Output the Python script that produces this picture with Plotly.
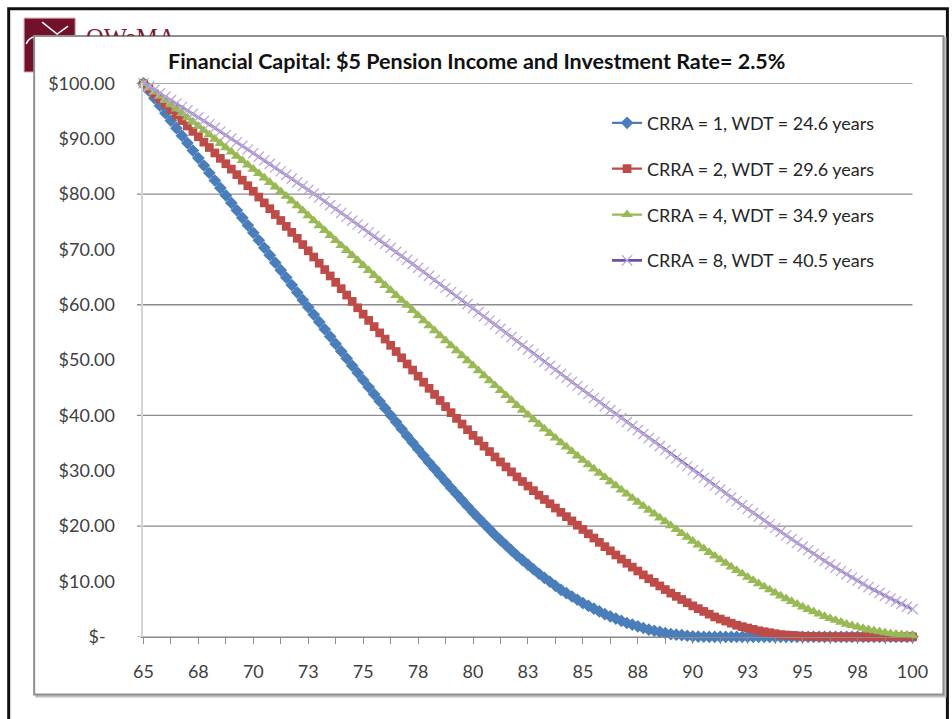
import plotly.graph_objects as go

# ---------------- data (quarterly ages 65 .. 100) ----------------
ages = [65 + q / 4 for q in range(141)]

crra1 = [
    100.0, 98.65, 97.3, 95.95,   # 65
    94.6, 93.25, 91.9, 90.55,    # 66
    89.2, 87.85, 86.5, 85.15,    # 67
    83.8, 82.45, 81.1, 79.75,    # 68
    78.4, 77.05, 75.7, 74.35,    # 69
    73.0, 71.65, 70.3, 68.95,    # 70
    67.6, 66.25, 64.9, 63.55,    # 71
    62.2, 60.87, 59.55, 58.22,   # 72
    56.9, 55.57, 54.25, 52.92,   # 73
    51.6, 50.3, 49.0, 47.7,      # 74
    46.4, 45.12, 43.85, 42.57,   # 75
    41.3, 40.04, 38.8, 37.55,    # 76
    36.3, 35.1, 33.9, 32.7,      # 77
    31.5, 30.35, 29.2, 28.05,    # 78
    26.9, 25.8, 24.7, 23.6,      # 79
    22.5, 21.47, 20.45, 19.42,   # 80
    18.4, 17.47, 16.55, 15.62,   # 81
    14.7, 13.87, 13.05, 12.22,   # 82
    11.4, 10.67, 9.95, 9.22,     # 83
    8.5, 7.9, 7.3, 6.7,          # 84
    6.1, 5.6, 5.1, 4.6,          # 85
    4.1, 3.7, 3.3, 2.9,          # 86
    2.5, 2.2, 1.9, 1.6,          # 87
    1.3, 1.1, 0.9, 0.7,          # 88
    0.5, 0.4, 0.3, 0.2,          # 89
    0.1, 0.05, 0.02, 0.01,       # 90
    0, 0, 0, 0,                  # 91
    0, 0, 0, 0,                  # 92
    0, 0, 0, 0,                  # 93
    0, 0, 0, 0,                  # 94
    0, 0, 0, 0,                  # 95
    0, 0, 0, 0,                  # 96
    0, 0, 0, 0,                  # 97
    0, 0, 0, 0,                  # 98
    0, 0, 0, 0,                  # 99
    0,                           # 100
]

crra2 = [
    100.0, 99.05, 98.1, 97.15,   # 65
    96.2, 95.22, 94.25, 93.27,   # 66
    92.3, 91.32, 90.35, 89.37,   # 67
    88.4, 87.42, 86.45, 85.47,   # 68
    84.5, 83.5, 82.5, 81.5,      # 69
    80.5, 79.45, 78.4, 77.35,    # 70
    76.3, 75.22, 74.15, 73.07,   # 71
    72.0, 70.87, 69.75, 68.62,   # 72
    67.5, 66.35, 65.2, 64.05,    # 73
    62.9, 61.75, 60.6, 59.45,    # 74
    58.3, 57.17, 56.05, 54.92,   # 75
    53.8, 52.67, 51.55, 50.42,   # 76
    49.3, 48.2, 47.1, 46.0,      # 77
    44.9, 43.8, 42.7, 41.6,      # 78
    40.5, 39.47, 38.45, 37.42,   # 79
    36.4, 35.42, 34.45, 33.47,   # 80
    32.5, 31.6, 30.7, 29.8,      # 81
    28.9, 28.07, 27.25, 26.42,   # 82
    25.6, 24.82, 24.05, 23.27,   # 83
    22.5, 21.72, 20.95, 20.17,   # 84
    19.4, 18.62, 17.85, 17.07,   # 85
    16.3, 15.55, 14.8, 14.05,    # 86
    13.3, 12.6, 11.9, 11.2,      # 87
    10.5, 9.85, 9.2, 8.55,       # 88
    7.9, 7.32, 6.75, 6.17,       # 89
    5.6, 5.1, 4.6, 4.1,          # 90
    3.6, 3.22, 2.85, 2.47,       # 91
    2.1, 1.85, 1.6, 1.35,        # 92
    1.1, 0.92, 0.75, 0.57,       # 93
    0.4, 0.32, 0.25, 0.17,       # 94
    0.1, 0.07, 0.04, 0.02,       # 95
    0, 0, 0, 0,                  # 96
    0, 0, 0, 0,                  # 97
    0, 0, 0, 0,                  # 98
    0, 0, 0, 0,                  # 99
    0,                           # 100
]

crra4 = [
    100.0, 99.22, 98.45, 97.67,  # 65
    96.9, 96.12, 95.35, 94.57,   # 66
    93.8, 93.02, 92.25, 91.47,   # 67
    90.7, 89.92, 89.15, 88.37,   # 68
    87.6, 86.82, 86.05, 85.27,   # 69
    84.5, 83.7, 82.9, 82.1,      # 70
    81.3, 80.45, 79.6, 78.75,    # 71
    77.9, 77.0, 76.1, 75.2,      # 72
    74.3, 73.4, 72.5, 71.6,      # 73
    70.7, 69.8, 68.9, 68.0,      # 74
    67.1, 66.2, 65.3, 64.4,      # 75
    63.5, 62.6, 61.7, 60.8,      # 76
    59.9, 58.97, 58.05, 57.12,   # 77
    56.2, 55.3, 54.4, 53.5,      # 78
    52.6, 51.7, 50.8, 49.9,      # 79
    49.0, 48.1, 47.2, 46.3,      # 80
    45.4, 44.5, 43.6, 42.7,      # 81
    41.8, 40.95, 40.1, 39.25,    # 82
    38.4, 37.57, 36.75, 35.92,   # 83
    35.1, 34.3, 33.5, 32.7,      # 84
    31.9, 31.12, 30.35, 29.57,   # 85
    28.8, 28.05, 27.3, 26.55,    # 86
    25.8, 25.07, 24.35, 23.62,   # 87
    22.9, 22.2, 21.5, 20.8,      # 88
    20.1, 19.4, 18.7, 18.0,      # 89
    17.3, 16.62, 15.95, 15.27,   # 90
    14.6, 13.95, 13.3, 12.65,    # 91
    12.0, 11.4, 10.8, 10.2,      # 92
    9.6, 9.05, 8.5, 7.95,        # 93
    7.4, 6.9, 6.4, 5.9,          # 94
    5.4, 4.97, 4.55, 4.12,       # 95
    3.7, 3.35, 3.0, 2.65,        # 96
    2.3, 2.05, 1.8, 1.55,        # 97
    1.3, 1.12, 0.95, 0.77,       # 98
    0.6, 0.5, 0.4, 0.3,          # 99
    0.2,                         # 100
]

crra8 = [
    100.0, 99.4, 98.8, 98.2,     # 65
    97.6, 96.97, 96.35, 95.72,   # 66
    95.1, 94.47, 93.85, 93.22,   # 67
    92.6, 91.95, 91.3, 90.65,    # 68
    90.0, 89.35, 88.7, 88.05,    # 69
    87.4, 86.75, 86.1, 85.45,    # 70
    84.8, 84.12, 83.45, 82.77,   # 71
    82.1, 81.42, 80.75, 80.07,   # 72
    79.4, 78.7, 78.0, 77.3,      # 73
    76.6, 75.9, 75.2, 74.5,      # 74
    73.8, 73.1, 72.4, 71.7,      # 75
    71.0, 70.27, 69.55, 68.82,   # 76
    68.1, 67.37, 66.65, 65.92,   # 77
    65.2, 64.47, 63.75, 63.02,   # 78
    62.3, 61.57, 60.85, 60.12,   # 79
    59.4, 58.65, 57.9, 57.15,    # 80
    56.4, 55.65, 54.9, 54.15,    # 81
    53.4, 52.65, 51.9, 51.15,    # 82
    50.4, 49.67, 48.95, 48.22,   # 83
    47.5, 46.77, 46.05, 45.32,   # 84
    44.6, 43.87, 43.15, 42.42,   # 85
    41.7, 40.97, 40.25, 39.52,   # 86
    38.8, 38.07, 37.35, 36.62,   # 87
    35.9, 35.17, 34.45, 33.72,   # 88
    33.0, 32.27, 31.55, 30.82,   # 89
    30.1, 29.4, 28.7, 28.0,      # 90
    27.3, 26.6, 25.9, 25.2,      # 91
    24.5, 23.8, 23.1, 22.4,      # 92
    21.7, 21.02, 20.35, 19.67,   # 93
    19.0, 18.32, 17.65, 16.97,   # 94
    16.3, 15.65, 15.0, 14.35,    # 95
    13.7, 13.1, 12.5, 11.9,      # 96
    11.3, 10.72, 10.15, 9.57,    # 97
    9.0, 8.47, 7.95, 7.42,       # 98
    6.9, 6.42, 5.95, 5.47,       # 99
    5.0,                         # 100
]

series_names = [
    "CRRA = 1, WDT = 24.6 years",
    "CRRA = 2, WDT = 29.6 years",
    "CRRA = 4, WDT = 34.9 years",
    "CRRA = 8, WDT = 40.5 years",
]

x_tick_vals = [65, 67.5, 70, 72.5, 75, 77.5, 80, 82.5, 85, 87.5, 90, 92.5, 95, 97.5, 100]
x_tick_text = ["65", "68", "70", "73", "75", "78", "80", "83", "85", "88", "90", "93", "95", "98", "100"]
y_tick_vals = [0, 10, 20, 30, 40, 50, 60, 70, 80, 90, 100]
y_tick_text = ["$-\u00a0\u00a0", "$10.00", "$20.00", "$30.00", "$40.00", "$50.00",
               "$60.00", "$70.00", "$80.00", "$90.00", "$100.00"]
grid_values = [0, 20, 40, 60, 80, 100]

title_text = "Financial Capital: $5 Pension Income and Investment Rate= 2.5%"
logo_text = "QWeMA"

# ---------------- figure geometry ----------------
# Screen targets (pixels in the final 952x719 picture) are converted to the
# figure's own coordinates: the page shows the figure offset by the body margin
# and slightly scaled, so compensate for both.
OFF = 8
S = 0.975
W = int(round(952 / S)) - OFF
H = int(round(719 / S)) - OFF
def fx(x):   # screen x -> figure px
    return x / S - OFF
def fy(y):
    return y / S - OFF
def px(x):   # screen x -> paper fraction
    return fx(x) / W
def py(y):   # screen y (from top) -> paper fraction
    return 1 - fy(y) / H
def fs(size):  # screen size -> figure size
    return size / S

FONT = "Lato"
LABEL = "#404040"
GRID = "#8c8c8c"

fig = go.Figure()

styles = [
    dict(color="#4A7EBB", symbol="diamond", size=9.5, lc="#4A7EBB", mlc="#4A7EBB", mlw=0, lw=2.2),
    dict(color="#BE4B48", symbol="square", size=8.5, lc="#BE4B48", mlc="#BE4B48", mlw=0, lw=2.2),
    dict(color="#98B954", symbol="triangle-up", size=10, lc="#98B954", mlc="#98B954", mlw=0, lw=2.2),
    dict(color="#BCA9DC", symbol="x-thin", size=10, lc="#6E4E9E", mlc="#BCA9DC", mlw=1.3, lw=2.6),
]
for name, ys, st in zip(series_names, [crra1, crra2, crra4, crra8], styles):
    fig.add_trace(go.Scatter(
        x=ages, y=ys, name=name, mode="lines+markers",
        line=dict(color=st["lc"], width=fs(st["lw"])),
        marker=dict(symbol=st["symbol"], size=fs(st["size"]), color=st["color"],
                    line=dict(color=st["mlc"], width=st["mlw"])),
        cliponaxis=False, legendgroup=name, hoverinfo="skip",
    ))

# logo text, clipped by its own small subplot above the chart frame
fig.add_trace(go.Scatter(
    x=[0], y=[0.45], mode="text", text=[logo_text], textposition="bottom right",
    textfont=dict(family="Liberation Serif", size=fs(24), color="#7B1A2E"),
    xaxis="x3", yaxis="y3", showlegend=False, hoverinfo="skip", cliponaxis=True,
))

shapes = [
    # outer black border
    dict(type="rect", xref="paper", yref="paper", x0=px(6.5), x1=px(947), y0=py(735), y1=py(4.5),
         line=dict(color="#111111", width=3), fillcolor="rgba(0,0,0,0)", layer="below"),
    # logo square
    dict(type="rect", xref="paper", yref="paper", x0=px(22), x1=px(73), y0=py(68), y1=py(14),
         line=dict(color="#C58C98", width=1), fillcolor="#74112A", layer="below"),
    dict(type="path", xref="paper", yref="paper", layer="below",
         path=f"M {px(40)},{py(18)} L {px(55)},{py(30)} L {px(66)},{py(22)}",
         line=dict(color="white", width=1.5)),
    dict(type="path", xref="paper", yref="paper", layer="below",
         path=f"M {px(24)},{py(40)} Q {px(28)},{py(30)} {px(38)},{py(34)}",
         line=dict(color="white", width=1.5)),
    # chart frame shadow + frame
    dict(type="rect", xref="paper", yref="paper", x0=px(34), x1=px(945), y0=py(696), y1=py(34),
         line=dict(color="#c0c0c0", width=2), fillcolor="#c0c0c0", layer="below"),
    dict(type="rect", xref="paper", yref="paper", x0=px(32), x1=px(943), y0=py(694), y1=py(32),
         line=dict(color="#8f8f8f", width=2), fillcolor="white", layer="below"),
]
# horizontal gridlines (every 20) with their short outside tick on the left
for gv in grid_values:
    shapes.append(dict(type="line", xref="paper", yref="y", x0=px(135), x1=px(912), y0=gv, y1=gv,
                       line=dict(color=GRID, width=1.3), layer="below"))

fig.update_layout(
    width=W, height=H,
    margin=dict(l=0, r=0, t=0, b=0),
    paper_bgcolor="white", plot_bgcolor="rgba(0,0,0,0)",
    font=dict(family=FONT, size=fs(17), color=LABEL),
    showlegend=True,
    legend=dict(
        x=px(606), y=py(101), xanchor="left", yanchor="top",
        bgcolor="rgba(0,0,0,0)", font=dict(family=FONT, size=fs(17.5), color="#262626"),
        tracegroupgap=fs(19), traceorder="grouped",
    ),
    shapes=shapes,
    annotations=[dict(
        text=f"<b>{title_text}</b>", x=px(475), y=py(57), xref="paper", yref="paper",
        xanchor="center", yanchor="middle", showarrow=False,
        font=dict(family=FONT, size=fs(21), color="#111111"),
    )],
    xaxis=dict(
        domain=[px(141.5), px(912)], range=[65, 100], anchor="y",
        tickmode="array", tickvals=x_tick_vals, ticktext=x_tick_text,
        ticks="outside", ticklen=round(fs(6)), tickwidth=1, tickcolor=GRID,
        minor=dict(dtick=1.25, tick0=65, ticks="outside", ticklen=round(fs(6)), tickwidth=1,
                   tickcolor=GRID, showgrid=False),
        showgrid=False, zeroline=False, showline=True, linecolor=GRID, linewidth=1.3,
        ticklabelstandoff=round(fs(12)), tickfont=dict(family=FONT, size=fs(17.5), color=LABEL),
    ),
    yaxis=dict(
        domain=[py(636), py(79.5)], range=[0, 100], anchor="x",
        tickmode="array", tickvals=y_tick_vals, ticktext=y_tick_text,
        ticks="", showgrid=False, zeroline=False,
        showline=True, linecolor="#d4d4d4", linewidth=2,
        ticklabelstandoff=round(fs(22)), tickfont=dict(family=FONT, size=fs(17.5), color=LABEL),
    ),
    xaxis3=dict(domain=[px(84), px(200)], range=[0, 1], visible=False, anchor="y3", fixedrange=True),
    yaxis3=dict(domain=[py(32), py(14)], range=[0, 1], visible=False, anchor="x3", fixedrange=True),
)

fig.write_html("out.html")
